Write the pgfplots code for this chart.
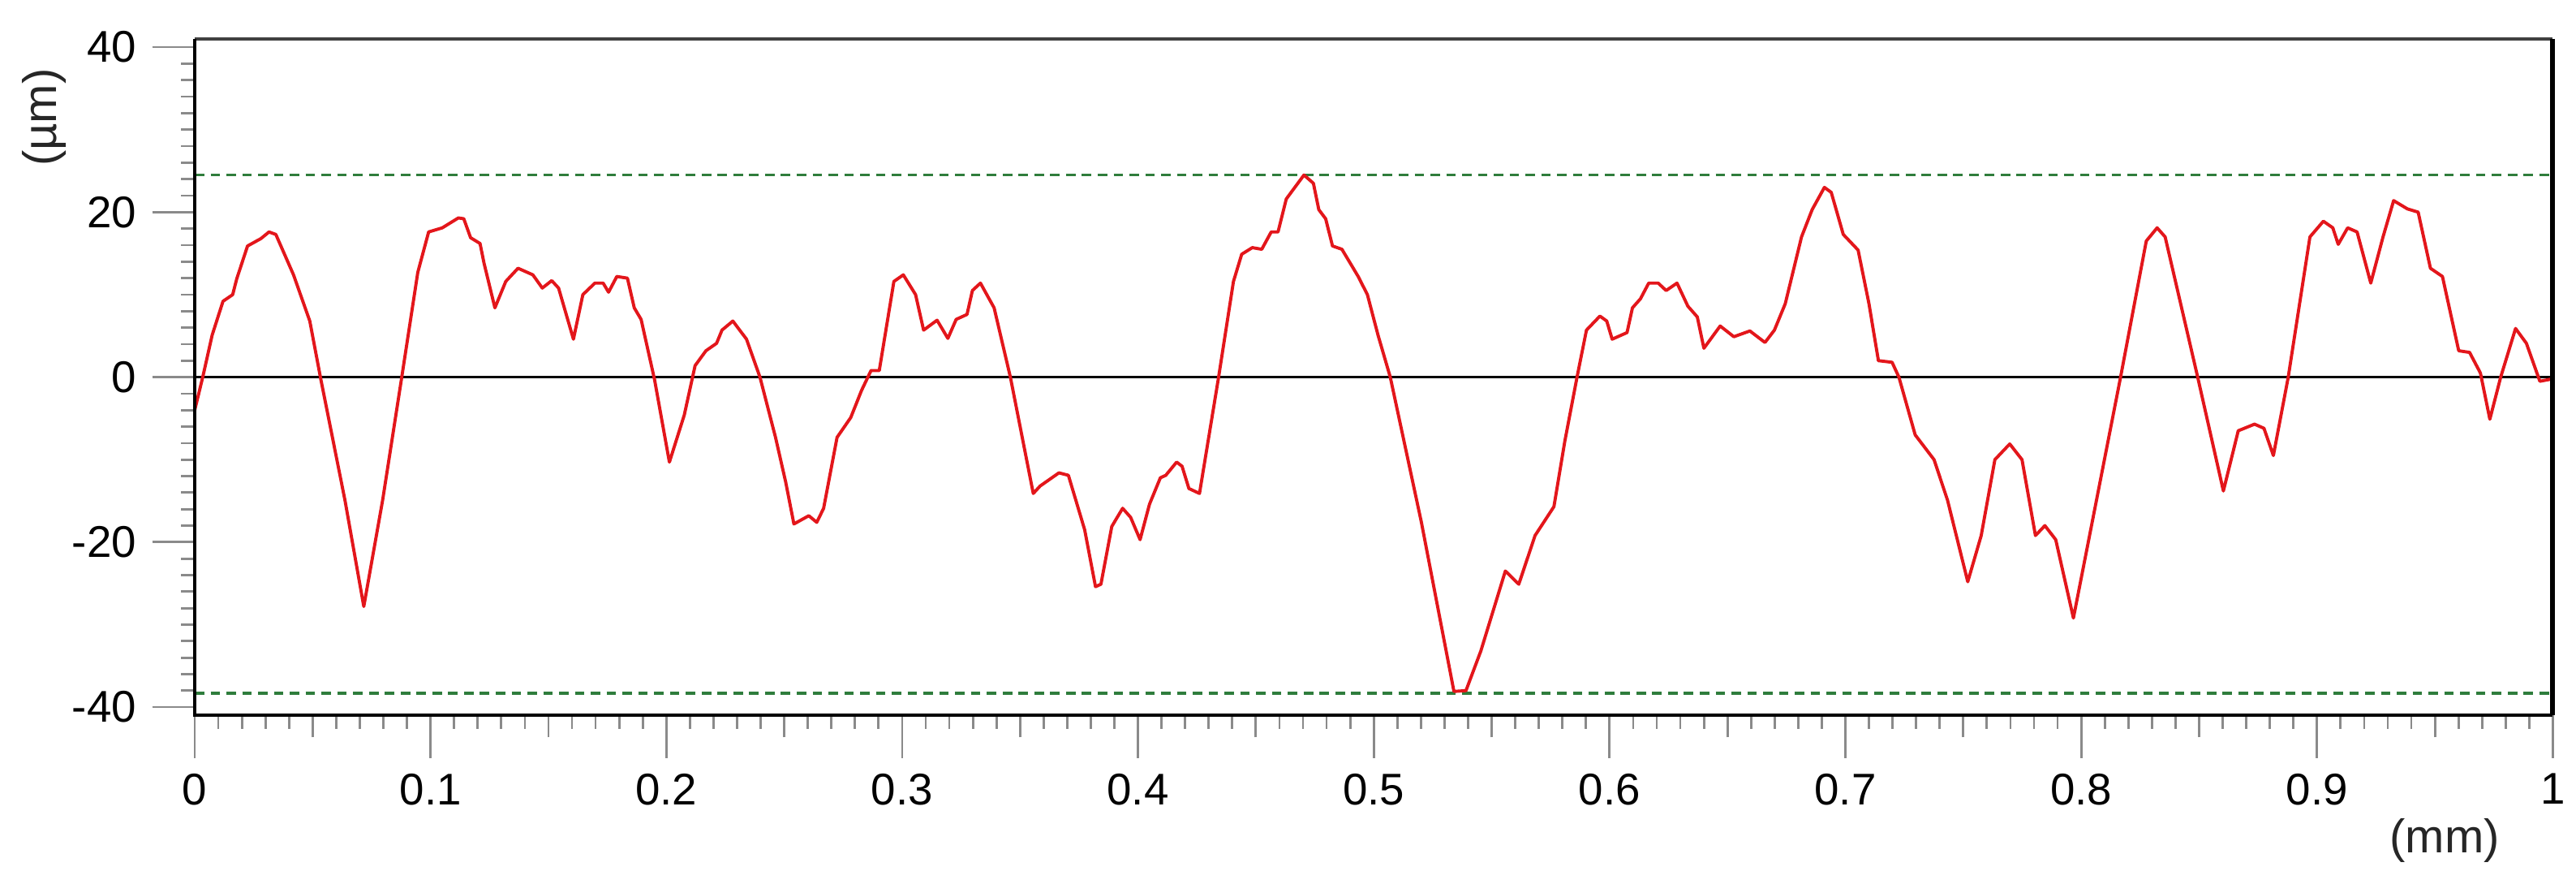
\documentclass[border=0pt]{standalone}
\usepackage{pgfplots}
\pgfplotsset{compat=1.18}
\usepackage{fontspec}
\setmainfont{Liberation Sans}
\definecolor{profred}{HTML}{E3161B}
\definecolor{limgreen}{HTML}{2F7D3C}
\definecolor{tickgray}{HTML}{8A8A8A}

\begin{document}
\begin{tikzpicture}
\begin{axis}[
    at={(0,0)}, anchor=south west,
    scale only axis,
    width=18.31cm, height=5.25cm,
    xmin=0, xmax=1,
    ymin=-41, ymax=41,
    clip=false,
    axis line style={draw=none},
    tick pos=left,
    tick align=outside,
    xtick={0,0.1,0.2,0.3,0.4,0.5,0.6,0.7,0.8,0.9,1},
    xticklabels={0,0.1,0.2,0.3,0.4,0.5,0.6,0.7,0.8,0.9,1},
    ytick={-40,-20,0,20,40},
    yticklabels={-40,-20,0,20,40},
    minor x tick num=9,
    minor y tick num=9,
    extra x ticks={0.05,0.15,0.25,0.35,0.45,0.55,0.65,0.75,0.85,0.95},
    extra x tick labels={},
    extra x tick style={major tick length=0.17cm},
    major tick length=0.33cm,
    minor tick length=0.105cm,
    tick style={tickgray, line width=0.5pt},
    tick label style={font=\fontsize{9.8}{11}\selectfont, text=black},
    /pgf/number format/assume math mode=true,
]
\addplot[limgreen, line width=0.6pt, dash pattern=on 2.1pt off 1.4pt] coordinates {(0,24.5) (1,24.5)};
\addplot[limgreen, line width=0.6pt, dash pattern=on 2.1pt off 1.4pt] coordinates {(0,-38.3) (1,-38.3)};
\addplot[black, line width=0.55pt] coordinates {(0,0) (1,0)};
\addplot[profred, line width=0.7pt, line join=round] coordinates {
(0.0000,-4.0) (0.0034,0.0) (0.0074,5.1) (0.0120,9.2) (0.0161,10.0) (0.0178,11.9)
(0.0224,15.9) (0.0281,16.8) (0.0315,17.6) (0.0344,17.3) (0.0419,12.4) (0.0488,6.8)
(0.0533,0.0) (0.0637,-14.9) (0.0717,-27.8) (0.0797,-14.9) (0.0878,0.0) (0.0946,12.7)
(0.0992,17.6) (0.1050,18.1) (0.1118,19.3) (0.1141,19.2) (0.1170,16.9) (0.1210,16.2)
(0.1227,13.8) (0.1273,8.4) (0.1319,11.6) (0.1371,13.2) (0.1434,12.4) (0.1474,10.8)
(0.1514,11.7) (0.1543,10.8) (0.1606,4.6) (0.1646,10.0) (0.1697,11.4) (0.1732,11.4)
(0.1755,10.3) (0.1790,12.2) (0.1835,12.0) (0.1864,8.4) (0.1893,7.0) (0.1950,-0.3)
(0.2013,-10.3) (0.2076,-4.6) (0.2122,1.4) (0.2168,3.2) (0.2213,4.1) (0.2236,5.7)
(0.2282,6.8) (0.2340,4.6) (0.2397,0.0) (0.2463,-7.3) (0.2506,-12.7) (0.2541,-17.8)
(0.2604,-16.8) (0.2638,-17.6) (0.2667,-15.9) (0.2724,-7.3) (0.2782,-4.9) (0.2828,-1.6)
(0.2868,0.8) (0.2903,0.8) (0.2965,11.6) (0.3005,12.4) (0.3057,10.0) (0.3091,5.7)
(0.3148,6.9) (0.3194,4.7) (0.3229,7.0) (0.3275,7.6) (0.3298,10.5) (0.3332,11.4)
(0.3390,8.4) (0.3459,0.0) (0.3556,-14.1) (0.3585,-13.2) (0.3665,-11.6) (0.3705,-11.9)
(0.3774,-18.5) (0.3820,-25.4) (0.3843,-25.1) (0.3889,-18.1) (0.3935,-15.9) (0.3969,-17.0)
(0.4009,-19.7) (0.4049,-15.4) (0.4095,-12.2) (0.4118,-11.9) (0.4164,-10.3) (0.4187,-10.8)
(0.4216,-13.5) (0.4261,-14.1) (0.4342,0.0) (0.4405,11.6) (0.4440,14.9) (0.4485,15.7)
(0.4525,15.5) (0.4565,17.6) (0.4594,17.6) (0.4629,21.6) (0.4704,24.5) (0.4744,23.5)
(0.4767,20.3) (0.4796,19.2) (0.4825,15.9) (0.4865,15.5) (0.4934,12.2) (0.4973,10.0)
(0.5018,5.1) (0.5070,0.0) (0.5202,-17.6) (0.5340,-38.1) (0.5391,-38.0) (0.5454,-33.2)
(0.5558,-23.5) (0.5615,-25.1) (0.5684,-19.2) (0.5764,-15.7) (0.5810,-7.8) (0.5862,0.0)
(0.5902,5.7) (0.5959,7.4) (0.5988,6.8) (0.6011,4.6) (0.6074,5.4) (0.6097,8.4)
(0.6131,9.5) (0.6166,11.4) (0.6206,11.4) (0.6240,10.5) (0.6286,11.4) (0.6332,8.6)
(0.6372,7.3) (0.6400,3.5) (0.6469,6.2) (0.6527,4.9) (0.6595,5.6) (0.6659,4.2)
(0.6699,5.7) (0.6745,8.9) (0.6814,17.0) (0.6859,20.3) (0.6911,23.0) (0.6940,22.4)
(0.6991,17.3) (0.7054,15.4) (0.7100,8.9) (0.7140,2.0) (0.7198,1.8) (0.7227,0.0)
(0.7296,-7.0) (0.7376,-10.0) (0.7433,-14.9) (0.7519,-24.8) (0.7576,-19.2) (0.7634,-10.0)
(0.7697,-8.1) (0.7749,-10.0) (0.7806,-19.2) (0.7846,-18.0) (0.7892,-19.7) (0.7967,-29.2)
(0.8167,0.0) (0.8276,16.5) (0.8322,18.1) (0.8356,17.0) (0.8494,0.0) (0.8603,-13.8)
(0.8666,-6.5) (0.8735,-5.7) (0.8775,-6.2) (0.8815,-9.5) (0.8878,0.0) (0.8970,17.0)
(0.9027,18.9) (0.9067,18.1) (0.9090,16.1) (0.9130,18.1) (0.9170,17.6) (0.9228,11.4)
(0.9280,17.0) (0.9325,21.4) (0.9383,20.4) (0.9429,20.0) (0.9481,13.2) (0.9532,12.2)
(0.9601,3.2) (0.9647,3.0) (0.9693,0.5) (0.9733,-5.1) (0.9779,0.0) (0.9842,5.9)
(0.9888,4.1) (0.9945,-0.5) (1.0000,-0.2)
};
% frame: thin grey top, heavier black left, bottom and right
\draw[black!75, line width=0.6pt] (rel axis cs:0,1) -- (rel axis cs:1,1);
\draw[black, line width=0.8pt] (rel axis cs:0,1) -- (rel axis cs:0,0) -- (rel axis cs:1,0);
\draw[black, line width=1.1pt] (rel axis cs:1,0) -- (rel axis cs:1,1);
\node[rotate=90, font=\fontsize{10.4}{12}\selectfont, text=black!85]
    at ([xshift=-1.17cm, yshift=-0.61cm]rel axis cs:0,1) {(µm)};
\node[font=\fontsize{10.4}{12}\selectfont, text=black!85]
    at ([xshift=-0.84cm, yshift=-0.97cm]rel axis cs:1,0) {(mm)};
\end{axis}
\pgfresetboundingbox
\useasboundingbox (-1.512,-1.304) rectangle (18.49,5.552);
\end{tikzpicture}
\end{document}
